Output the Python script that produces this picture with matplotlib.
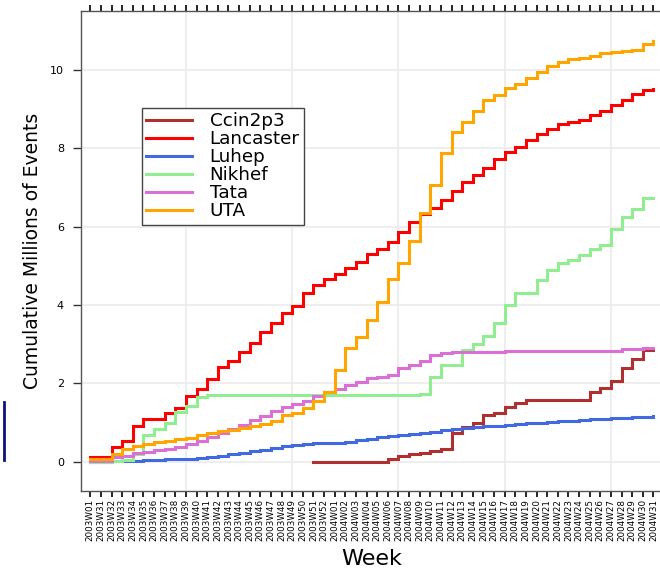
import numpy as np
import matplotlib
matplotlib.use("Agg")
import matplotlib.pyplot as plt
from matplotlib.lines import Line2D

weeks = ["2003W01", "2003W31", "2003W32", "2003W33", "2003W34", "2003W35", "2003W36",
         "2003W37", "2003W38", "2003W39", "2003W40", "2003W41", "2003W42", "2003W43",
         "2003W44", "2003W45", "2003W46", "2003W47", "2003W48", "2003W49", "2003W50",
         "2003W51", "2003W52", "2004W01", "2004W02", "2004W03", "2004W04", "2004W05",
         "2004W06", "2004W07", "2004W08", "2004W09", "2004W10", "2004W11", "2004W12",
         "2004W13", "2004W14", "2004W15", "2004W16", "2004W17", "2004W18", "2004W19",
         "2004W20", "2004W21", "2004W22", "2004W23", "2004W24", "2004W25", "2004W26",
         "2004W27", "2004W28", "2004W29", "2004W30", "2004W31"]

nan = np.nan
ccin2p3 = [nan] * 21 + [0.00, 0.00, 0.00, 0.00, 0.00, 0.00, 0.00, 0.07, 0.14,
                        0.20, 0.21, 0.27, 0.32, 0.72, 0.89, 0.98, 1.18, 1.23, 1.39,
                        1.51, 1.57, 1.57, 1.57, 1.57, 1.57, 1.57, 1.77, 1.88, 2.05,
                        2.39, 2.62, 2.86, 2.88]
lancaster = [0.11, 0.11, 0.38, 0.53, 0.92, 1.10, 1.10, 1.25, 1.36, 1.68,
             1.85, 2.12, 2.41, 2.58, 2.81, 3.03, 3.31, 3.55, 3.79, 3.96,
             4.30, 4.50, 4.66, 4.79, 4.93, 5.10, 5.30, 5.43, 5.61, 5.85,
             6.12, 6.31, 6.48, 6.68, 6.91, 7.14, 7.31, 7.50, 7.72, 7.91,
             8.04, 8.22, 8.35, 8.48, 8.61, 8.67, 8.73, 8.84, 8.96, 9.10,
             9.23, 9.38, 9.48, 9.52]
luhep = [0.00, 0.00, 0.01, 0.02, 0.03, 0.04, 0.05, 0.06, 0.07, 0.08,
         0.10, 0.12, 0.15, 0.19, 0.23, 0.27, 0.31, 0.35, 0.39, 0.43,
         0.46, 0.47, 0.47, 0.48, 0.51, 0.55, 0.58, 0.62, 0.65, 0.68,
         0.71, 0.74, 0.77, 0.80, 0.83, 0.86, 0.88, 0.90, 0.92, 0.94,
         0.96, 0.98, 1.00, 1.02, 1.04, 1.05, 1.06, 1.08, 1.10, 1.11,
         1.12, 1.14, 1.15, 1.16]
nikhef = [0.00, 0.00, 0.02, 0.04, 0.20, 0.68, 0.83, 1.00, 1.28, 1.43,
          1.66, 1.69, 1.69, 1.69, 1.69, 1.69, 1.69, 1.69, 1.69, 1.69,
          1.69, 1.69, 1.69, 1.69, 1.69, 1.69, 1.69, 1.69, 1.69, 1.69,
          1.69, 1.74, 2.17, 2.47, 2.47, 2.85, 3.00, 3.20, 3.55, 4.00,
          4.31, 4.31, 4.64, 4.89, 5.06, 5.15, 5.27, 5.43, 5.53, 5.95,
          6.24, 6.46, 6.72, 6.72]
tata = [0.03, 0.03, 0.13, 0.15, 0.21, 0.26, 0.30, 0.32, 0.38, 0.46,
        0.53, 0.64, 0.72, 0.83, 0.94, 1.06, 1.17, 1.30, 1.40, 1.48,
        1.56, 1.67, 1.78, 1.85, 1.96, 2.04, 2.13, 2.17, 2.21, 2.38,
        2.47, 2.58, 2.72, 2.78, 2.80, 2.80, 2.80, 2.80, 2.80, 2.82,
        2.82, 2.82, 2.82, 2.82, 2.82, 2.82, 2.82, 2.82, 2.82, 2.82,
        2.87, 2.88, 2.89, 2.90]
uta = [0.06, 0.06, 0.20, 0.32, 0.41, 0.45, 0.49, 0.52, 0.57, 0.61,
       0.69, 0.74, 0.78, 0.82, 0.86, 0.90, 0.96, 1.05, 1.19, 1.24,
       1.37, 1.56, 1.78, 2.34, 2.89, 3.18, 3.62, 4.07, 4.66, 5.06,
       5.63, 6.34, 7.06, 7.87, 8.42, 8.67, 8.95, 9.22, 9.35, 9.54,
       9.63, 9.78, 9.95, 10.09, 10.20, 10.27, 10.29, 10.35, 10.43, 10.46,
       10.48, 10.50, 10.67, 10.74]

sites = ["Ccin2p3", "Lancaster", "Luhep", "Nikhef", "Tata", "UTA"]
series = [ccin2p3, lancaster, luhep, nikhef, tata, uta]
colors = ["#b03030", "#ff0000", "#4169e1", "#90ee90", "#da70d6", "#ffa500"]

fig = plt.figure(figsize=(6.6, 5.75), dpi=100)
ax = fig.add_axes([0.1223, 0.1466, 0.8823, 0.8343])

x = np.arange(1, len(weeks) + 1)
for name, ys, c in zip(sites, series, colors):
    ax.step(x, ys, where="post", color=c, lw=2.2, label=name, solid_joinstyle="miter")

ax.set_xlim(0.1, 54.9)
ax.set_ylim(-0.74, 11.5)

ax.set_xticks(x)
ax.set_xticklabels(weeks, rotation=90, fontsize=6.3, va="top")
ax.set_yticks([0, 2, 4, 6, 8, 10])
ax.set_yticklabels(["0", "2", "4", "6", "8", "10"], fontsize=8)

ax.tick_params(axis="x", which="both", top=True, bottom=True, direction="out",
               length=4.5, width=1.2, pad=1.5, color="black")
ax.tick_params(axis="y", which="both", left=True, right=False, direction="out",
               length=6, width=1.0, pad=6, color="#333333")

for s in ["left", "bottom", "top"]:
    ax.spines[s].set_color("#555555")
    ax.spines[s].set_linewidth(1.0)
ax.spines["right"].set_visible(False)

# grid
for gx in [10, 20, 30, 40, 50]:
    ax.axvline(gx, color="#ebebeb", lw=1.2, zorder=0)
for gy in [0, 2, 4, 6, 8, 10]:
    ax.axhline(gy, color="#ebebeb", lw=1.2, zorder=0)

ax.set_ylabel("Cumulative Millions of Events", fontsize=13.5)
ax.yaxis.set_label_coords(-0.066, 0.5)
ax.set_xlabel("Week", fontsize=16)
ax.xaxis.set_label_coords(0.5, -0.122)

leg = ax.legend(loc="upper left", bbox_to_anchor=((141.7 - 80.7) / 582.3, (490.7 - 107.7) / 479.7),
                fontsize=13.2, frameon=True, fancybox=False, edgecolor="#444444",
                framealpha=1, labelspacing=0.0, handlelength=2.5, handletextpad=0.95,
                borderpad=0.25, borderaxespad=0)
leg.get_frame().set_linewidth(1.0)
for h in leg.get_lines():
    h.set_linewidth(2.2)

# navy mark at the left edge of the slide
fig.add_artist(Line2D([4 / 660, 4 / 660], [1 - 402 / 575, 1 - 460 / 575],
                      color="#10107a", lw=2.0))

fig.savefig("out.png", dpi=100)
